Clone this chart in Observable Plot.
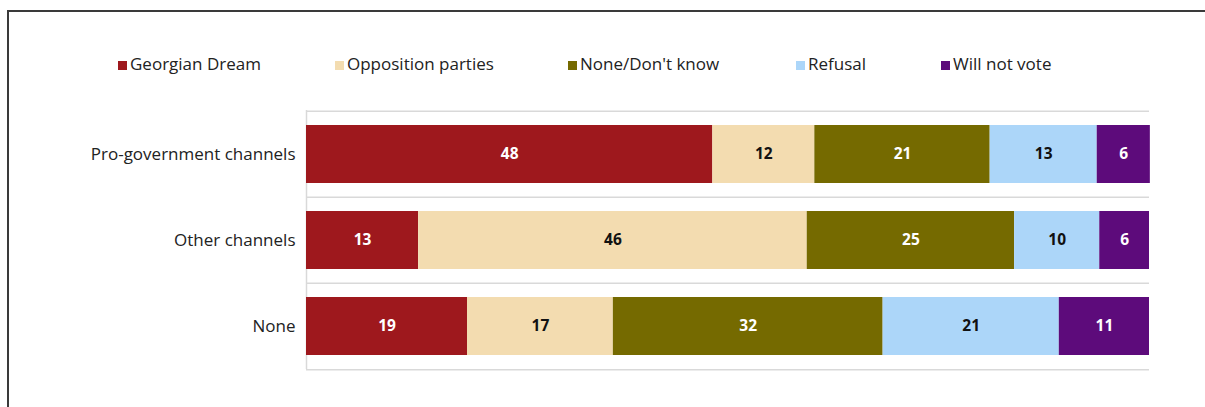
<!DOCTYPE html>
<html>
<head>
<meta charset="utf-8">
<script src="https://cdn.jsdelivr.net/npm/d3@7"></script>
<script src="https://cdn.jsdelivr.net/npm/@observablehq/plot@0.6"></script>
<style>
  html, body { margin: 0; padding: 0; background: #fff; }
  #wrap { position: relative; width: 1205px; height: 407px; overflow: hidden; font-family: "Open Sans", sans-serif; }
  #frame { position: absolute; left: 7px; top: 10px; width: 1400px; height: 600px; border-left: 2px solid #3a3a3a; border-top: 2px solid #3a3a3a; }
  #legend { position: relative; height: 100px; }
  .item { position: absolute; top: 52px; font-size: 17px; color: #222; white-space: nowrap; line-height: 24px; }
  .sw { display: inline-block; width: 9px; height: 9px; margin-right: 3px; vertical-align: 0px; }
  #chart { position: relative; }
</style>
</head>
<body>
<div id="wrap">
  <div id="frame"></div>
  <div id="legend"></div>
  <div id="chart"></div>
</div>
<script>
const categories = ["Pro-government channels", "Other channels", "None"];
const seriesNames = ["Georgian Dream", "Opposition parties", "None/Don't know", "Refusal", "Will not vote"];
// estimated underlying shares (labels are shown rounded)
const georgianDream = [48.2, 13.3, 19.1];
const oppositionParties = [12.1, 46.1, 17.3];
const noneDontKnow = [20.8, 24.6, 32.0];
const refusal = [12.7, 10.1, 20.9];
const willNotVote = [6.3, 5.9, 10.7];
const seriesColors = ["#9e181d", "#f3dcb0", "#756a00", "#acd6f9", "#5d0b7b"];
const labelColors = ["#ffffff", "#111111", "#ffffff", "#111111", "#ffffff"];
const legendX = [118, 335, 568, 796, 941];

const seriesValues = [georgianDream, oppositionParties, noneDontKnow, refusal, willNotVote];
const data = [];
seriesNames.forEach((s, si) => {
  categories.forEach((c, ci) => {
    data.push({category: c, series: s, value: seriesValues[si][ci], label: labelColors[si]});
  });
});

// legend
const legend = document.getElementById("legend");
seriesNames.forEach((s, i) => {
  const d = document.createElement("div");
  d.className = "item";
  d.style.left = legendX[i] + "px";
  d.innerHTML = `<span class="sw" style="background:${seriesColors[i]}"></span>${s}`;
  legend.appendChild(d);
});

const H = 307, mTop = 10, mBottom = 38;
const step = (H - mTop - mBottom) / categories.length;

const chart = Plot.plot({
  width: 1205,
  height: H,
  marginLeft: 306,
  marginRight: 56,
  marginTop: mTop,
  marginBottom: mBottom,
  style: {fontFamily: "'Open Sans', sans-serif", fontSize: "17px", color: "#222", background: "transparent"},
  x: {domain: [0, 100], axis: null},
  y: {domain: categories, paddingInner: 0.33, paddingOuter: 0.165, label: null, tickSize: 0, tickPadding: 11},
  color: {domain: seriesNames, range: seriesColors},
  marks: [
    Plot.ruleY(categories, {y: d => d, x1: 0, x2: 100, dy: -step / 2, stroke: "#d9d9d9", strokeWidth: 1.5}),
    Plot.ruleY(categories.slice(-1), {y: d => d, x1: 0, x2: 100, dy: step / 2, stroke: "#d9d9d9", strokeWidth: 1.5}),
    Plot.ruleX([0], {stroke: "#d9d9d9", strokeWidth: 1.5}),
    Plot.barX(data, Plot.stackX({x: "value", y: "category", fill: "series", order: seriesNames})),
    Plot.text(data, Plot.stackX({x: "value", y: "category", z: "series", order: seriesNames, text: d => String(Math.round(d.value)), fill: "label", fontWeight: "bold", fontSize: 15.5}))
  ]
});
document.getElementById("chart").appendChild(chart);
</script>
</body>
</html>
